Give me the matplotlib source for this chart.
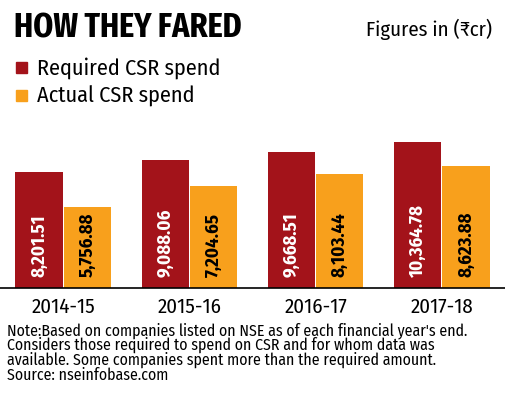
import matplotlib
matplotlib.use("Agg")
import matplotlib.pyplot as plt
from matplotlib.patches import Rectangle

categories = ["2014-15", "2015-16", "2016-17", "2017-18"]
required = [8201.51, 9088.06, 9668.51, 10364.78]
actual = [5756.88, 7204.65, 8103.44, 8623.88]
required_labels = ["8,201.51", "9,088.06", "9,668.51", "10,364.78"]
actual_labels = ["5,756.88", "7,204.65", "8,103.44", "8,623.88"]

RED = "#A3131A"
ORANGE = "#F8A01C"
FONT = ["Fira Sans Condensed", "DejaVu Sans"]
TITLE_FONT = ["Fira Sans Extra Condensed", "DejaVu Sans"]
plt.rcParams["font.family"] = FONT

W, H = 505, 396
fig = plt.figure(figsize=(W / 100, H / 100), dpi=100)
fig.patch.set_facecolor("white")

def fx(px):
    return px / W

def fy(py):
    return 1 - py / H

ax = fig.add_axes([0, fy(288), 1, fy(130) - fy(288)])
ax.set_xlim(-0.5, 3.5)
ax.set_ylim(0, 11200)

bw = 0.375
x = list(range(len(categories)))
ax.bar([i - bw / 2 - 0.004 for i in x], required, width=bw, color=RED, linewidth=0)
ax.bar([i + bw / 2 + 0.004 for i in x], actual, width=bw, color=ORANGE, linewidth=0)

for i in x:
    ax.text(i - bw / 2 - 0.004, 760, required_labels[i], rotation=90, ha="center", va="bottom",
            color="white", fontsize=13.5, fontweight="bold")
    ax.text(i + bw / 2 + 0.004, 760, actual_labels[i], rotation=90, ha="center", va="bottom",
            color="black", fontsize=13.5, fontweight="bold")

for s in ["top", "right", "left"]:
    ax.spines[s].set_visible(False)
ax.spines["bottom"].set_color("black")
ax.spines["bottom"].set_linewidth(1.2)
ax.set_yticks([])
ax.set_xticks(x)
ax.set_xticklabels(categories, fontsize=15)
ax.tick_params(axis="x", length=0, pad=7)
ax.set_facecolor("white")

fig.text(fx(14), fy(38), "HOW THEY FARED", fontsize=25, fontweight="bold", ha="left", va="baseline",
         family=TITLE_FONT)
fig.text(fx(492), fy(36), "Figures in (₹cr)", fontsize=15, ha="right", va="baseline")

for py, col, lab in [(62, RED, "Required CSR spend"), (90, ORANGE, "Actual CSR spend")]:
    fig.patches.append(Rectangle((fx(16), fy(py + 11)), fx(11), 11 / H, color=col,
                                 transform=fig.transFigure))
    fig.text(fx(37), fy(py + 13), lab, fontsize=16, ha="left", va="baseline")

notes = ["Note:Based on companies listed on NSE as of each financial year's end.",
         "Considers those required to spend on CSR and for whom data was",
         "available. Some companies spent more than the required amount.",
         "Source: nseinfobase.com"]
for k, line in enumerate(notes):
    fig.text(fx(7), fy(335 + 15 * k), line, fontsize=11.4, ha="left", va="baseline")

fig.savefig("out.png", dpi=100, facecolor="white")
